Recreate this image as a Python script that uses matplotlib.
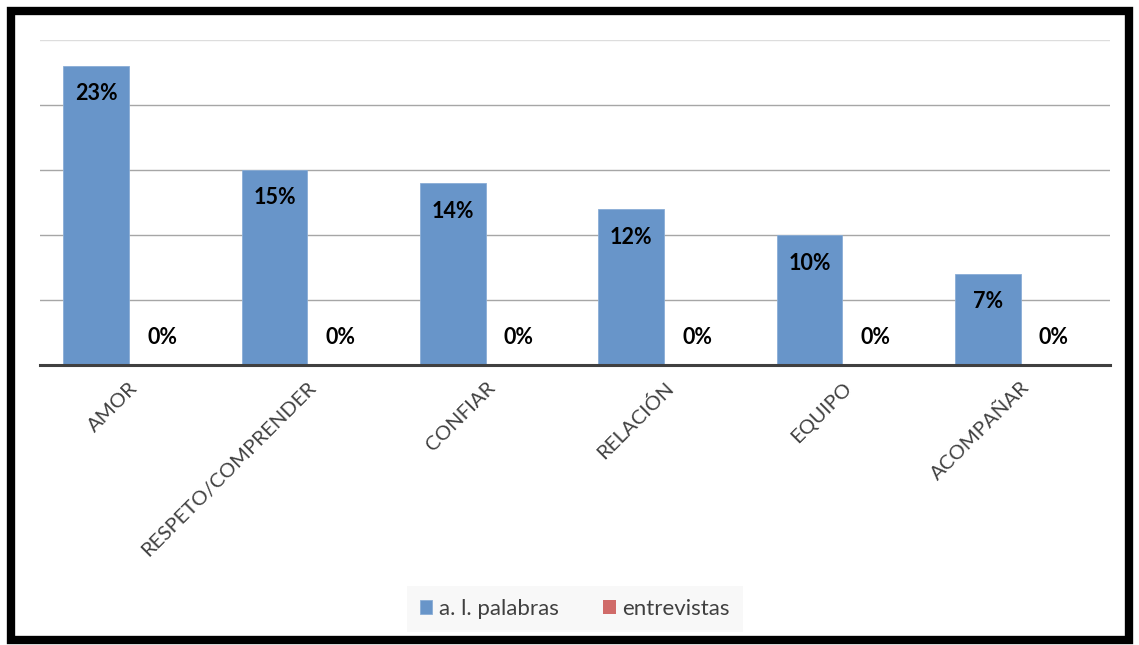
import matplotlib
matplotlib.use("Agg")
import matplotlib.pyplot as plt
import numpy as np
from matplotlib.patches import Rectangle

categories = ["AMOR", "RESPETO/COMPRENDER", "CONFIAR", "RELACIÓN", "EQUIPO", "ACOMPAÑAR"]
palabras = [23, 15, 14, 12, 10, 7]
entrevistas = [0, 0, 0, 0, 0, 0]
series_names = ["a. l. palabras", "entrevistas"]

plt.rcParams["font.family"] = ["Lato", "DejaVu Sans"]

fig = plt.figure(figsize=(11.39, 6.45), dpi=100)
ax = fig.add_axes([40 / 1139, 1 - 365 / 645, 1070 / 1139, 325 / 645])

x = np.arange(len(categories))
w = 0.37
b1 = ax.bar(x - w / 2, palabras, w, color="#6895C9", edgecolor="#8AADD6", linewidth=0.6,
            label=series_names[0], zorder=2)
b2 = ax.bar(x + w / 2, entrevistas, w, color="#D06B69", label=series_names[1], zorder=2)

for xi, v in zip(x - w / 2, palabras):
    ax.annotate(f"{v}%", (xi, v), xytext=(0, -28), textcoords="offset pixels",
                ha="center", va="center", fontsize=15.5, fontweight="bold", color="black", zorder=3)
for xi, v in zip(x + w / 2, entrevistas):
    ax.annotate(f"{v}%", (xi, v), xytext=(0, 27), textcoords="offset pixels",
                ha="center", va="center", fontsize=15.5, fontweight="bold", color="black", zorder=3)

ax.set_xlim(-0.5, len(categories) - 0.5)
ax.set_ylim(0, 25)
ax.set_yticks([5, 10, 15, 20, 25])
ax.set_yticklabels([])
ax.tick_params(axis="y", length=0)
ax.grid(axis="y", color="#A6A6A6", linewidth=1, zorder=0)
ax.get_ygridlines()[-1].set_color("#DDDDDD")
for s in ["left", "right", "top"]:
    ax.spines[s].set_visible(False)
ax.spines["bottom"].set_color("#404040")
ax.spines["bottom"].set_linewidth(2.2)
ax.spines["bottom"].set_zorder(4)

ax.set_xticks(x)
ax.set_xticklabels(categories, rotation=45, ha="right", va="top", rotation_mode="anchor",
                   fontsize=14.7, color="#404040")
ax.tick_params(axis="x", length=0, pad=10)

leg = fig.legend(handles=[b1, b2], labels=series_names, loc="center",
                 bbox_to_anchor=(575 / 1139, 1 - 609 / 645), ncol=2, fontsize=16,
                 frameon=True, facecolor="#F7F7F7", edgecolor="none", fancybox=False,
                 handlelength=0.55, handleheight=0.55, handletextpad=0.3, columnspacing=2.0,
                 borderpad=0.6)
for t in leg.get_texts():
    t.set_color("#404040")

fig.patches.append(Rectangle((11 / 1139, 5 / 645), 1118 / 1139, 629 / 645, transform=fig.transFigure,
                             fill=False, edgecolor="black", linewidth=6))

fig.savefig("out.png", dpi=100, facecolor="white")
